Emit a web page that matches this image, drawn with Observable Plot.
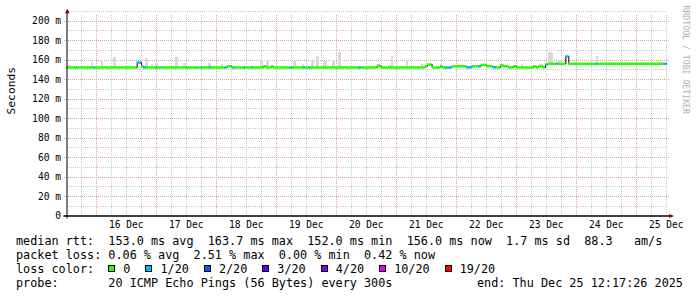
<!DOCTYPE html>
<html><head><meta charset="utf-8">
<script src="https://cdn.jsdelivr.net/npm/d3@7"></script>
<script src="https://cdn.jsdelivr.net/npm/@observablehq/plot@0.6"></script>
<style>
html,body{margin:0;padding:0;background:#fff;}
#wrap{position:relative;width:697px;height:297px;overflow:hidden;background:#fff;font-family:"DejaVu Sans Mono",monospace;}
#chart{position:absolute;left:0;top:0;}
.row{position:absolute;left:16px;font-size:11.8px;line-height:14px;white-space:pre;color:#000;}
.sw{display:inline-block;width:5px;height:5px;border:1px solid #000;margin-right:8px;position:relative;top:-1px;}
.it{margin-right:15px;}
</style></head>
<body>
<div id="wrap"><div id="chart"></div>
<div class="row" id="r1" style="top:234.2px"></div>
<div class="row" id="r2" style="top:247.9px"></div>
<div class="row" id="r3" style="top:261.9px"></div>
<div class="row" id="r4" style="top:275.9px"></div>
<div class="row" id="r5" style="top:275.9px;left:477px"></div>
</div>
<script>
// ---- data ----
const startTime = "2025-12-15T12:17:26Z";
const endTime = "2025-12-25T12:17:26Z";

const dayTicks = ["2025-12-16","2025-12-17","2025-12-18","2025-12-19","2025-12-20","2025-12-21","2025-12-22","2025-12-23","2025-12-24","2025-12-25"];
const dayLabels = ["16 Dec","17 Dec","18 Dec","19 Dec","20 Dec","21 Dec","22 Dec","23 Dec","24 Dec","25 Dec"];
const yTicks = [0,20,40,60,80,100,120,140,160,180,200];
const yTickLabels = ["0","20 m","40 m","60 m","80 m","100 m","120 m","140 m","160 m","180 m","200 m"];
const yMinorTicks = [10,30,50,70,90,110,130,150,170,190,210];

// median RTT (ms) step series with loss count (of 20 pings)
const medTimes = ["2025-12-15T12:17:26Z","2025-12-15T16:13Z","2025-12-15T16:37Z","2025-12-15T23:01Z","2025-12-15T23:42Z",
"2025-12-16T16:22Z","2025-12-16T18:05Z","2025-12-16T19:01Z","2025-12-16T20:05Z",
"2025-12-17T00:13Z","2025-12-17T00:37Z","2025-12-17T02:05Z","2025-12-17T02:29Z","2025-12-17T12:13Z","2025-12-17T12:37Z",
"2025-12-17T16:13Z","2025-12-17T16:37Z","2025-12-17T18:13Z","2025-12-17T18:37Z","2025-12-17T21:17Z","2025-12-17T21:53Z",
"2025-12-18T03:17Z","2025-12-18T03:53Z","2025-12-18T04:22Z","2025-12-18T06:22Z","2025-12-18T07:01Z","2025-12-18T07:25Z",
"2025-12-18T11:10Z","2025-12-18T11:41Z","2025-12-18T14:17Z","2025-12-18T14:53Z","2025-12-18T19:01Z","2025-12-18T20:05Z",
"2025-12-18T22:05Z","2025-12-18T22:46Z","2025-12-19T05:53Z","2025-12-19T06:41Z","2025-12-19T11:05Z","2025-12-19T11:41Z",
"2025-12-19T13:05Z","2025-12-19T13:41Z","2025-12-20T09:10Z","2025-12-20T10:05Z","2025-12-20T16:22Z","2025-12-20T17:58Z",
"2025-12-21T11:41Z","2025-12-21T12:29Z","2025-12-21T14:22Z","2025-12-21T17:41Z","2025-12-21T18:37Z","2025-12-21T19:41Z",
"2025-12-21T22:22Z","2025-12-22T04:05Z","2025-12-22T06:22Z","2025-12-22T08:59Z","2025-12-22T09:58Z","2025-12-22T12:05Z",
"2025-12-22T14:46Z","2025-12-22T16:05Z","2025-12-22T17:41Z","2025-12-22T19:01Z","2025-12-22T20:53Z","2025-12-22T22:46Z",
"2025-12-23T00:22Z","2025-12-23T07:01Z","2025-12-23T08:05Z","2025-12-23T08:53Z","2025-12-23T10:46Z","2025-12-23T11:41Z",
"2025-12-23T12:37Z","2025-12-23T16:22Z","2025-12-23T17:01Z","2025-12-23T19:49Z","2025-12-23T21:01Z","2025-12-24T07:49Z",
"2025-12-24T08:37Z","2025-12-25T11:01Z"];
const medValues = [152.3,152.3,152.3,152.3,152.3,
157.4,153.5,152.3,152.3,
152.3,152.3,152.3,152.3,152.3,152.3,
152.3,152.3,152.3,152.3,152.3,152.3,
152.3,152.3,153.5,152.3,152.3,152.3,
152.3,152.3,152.3,152.3,153.5,152.3,
153.5,152.3,152.3,152.3,152.3,152.3,
152.3,152.3,152.3,152.3,154.0,152.3,
153.5,155.3,152.3,153.5,152.3,152.3,
153.5,152.5,153.5,153.5,155.0,153.5,
152.5,152.3,154.5,153.5,152.3,153.5,
152.3,153.5,152.3,153.5,152.3,155.3,
156.1,156.1,156.1,163.7,156.1,156.1,
156.1,156.1];
const medLoss = [0,1,0,1,0,
1,0,1,0,
1,0,1,0,1,0,
1,0,1,0,1,0,
1,0,0,0,1,0,
1,0,1,0,0,0,
0,0,1,0,1,0,
1,0,1,0,0,0,
0,0,0,0,0,1,
0,1,0,1,0,0,
1,0,0,0,0,0,
0,0,0,0,0,1,
0,1,0,1,0,1,
0,1];

// smoke (ping spread above the median)
const smokeStart = ["2025-12-15T13:05Z","2025-12-15T21:58Z","2025-12-16T01:58Z","2025-12-16T06:46Z","2025-12-16T11:58Z","2025-12-16T19:41Z","2025-12-16T22:05Z","2025-12-16T23:49Z","2025-12-17T07:49Z","2025-12-17T10:46Z","2025-12-17T15:01Z","2025-12-17T20:53Z","2025-12-18T02:05Z","2025-12-18T17:41Z","2025-12-18T20:05Z","2025-12-19T07:01Z","2025-12-19T10:22Z","2025-12-19T14:05Z","2025-12-19T15:58Z","2025-12-19T19:01Z","2025-12-19T22:22Z","2025-12-20T00:46Z","2025-12-20T16:22Z","2025-12-20T20:53Z","2025-12-20T21:58Z","2025-12-21T03:58Z","2025-12-21T10:05Z","2025-12-21T17:41Z","2025-12-23T02:05Z","2025-12-23T09:41Z","2025-12-23T12:46Z","2025-12-23T13:58Z","2025-12-23T17:01Z","2025-12-24T08:05Z"];
const smokeEnd = ["2025-12-15T13:58Z","2025-12-15T23:01Z","2025-12-16T02:46Z","2025-12-16T08:05Z","2025-12-16T12:29Z","2025-12-16T21:01Z","2025-12-16T23:01Z","2025-12-17T00:53Z","2025-12-17T09:01Z","2025-12-17T12:05Z","2025-12-17T16:05Z","2025-12-17T22:05Z","2025-12-18T03:01Z","2025-12-18T18:46Z","2025-12-18T21:10Z","2025-12-19T08:05Z","2025-12-19T11:17Z","2025-12-19T15:17Z","2025-12-19T17:10Z","2025-12-19T20:22Z","2025-12-19T23:41Z","2025-12-20T02:05Z","2025-12-20T17:41Z","2025-12-20T21:58Z","2025-12-20T22:46Z","2025-12-21T05:01Z","2025-12-21T10:46Z","2025-12-21T18:37Z","2025-12-23T03:01Z","2025-12-23T10:46Z","2025-12-23T13:58Z","2025-12-23T15:01Z","2025-12-23T18:05Z","2025-12-24T09:01Z"];
const smokeTop = [154,157.2,159.7,162.4,153.8,161.3,154.9,156.2,162.4,156.2,153.8,156.2,154.9,159.7,159,159.7,155.6,158.3,163.4,158.3,159.7,167.2,155.6,154,163.4,159.7,154.9,155.6,154.9,154.9,168.2,166.9,159.7,164.1];
const smokeBase = [152.3,152.3,152.3,152.3,152.3,152.3,152.3,152.3,152.3,152.3,152.3,152.3,152.3,152.3,152.3,152.3,152.3,152.3,152.3,152.3,152.3,152.3,152.3,152.3,152.3,152.3,152.3,152.3,152.3,152.3,156.1,156.1,156.1,156.1];

const lossLevels = [0,1,2,3,4,10,19];
const lossLabels = ["0","1/20","2/20","3/20","4/20","10/20","19/20"];
const lossColors = ["#26ff00","#00b8ff","#0059ff","#5e00ff","#7e00ff","#dd00ff","#ff0000"];

const legendRow1 = "median rtt:  153.0 ms avg  163.7 ms max  152.0 ms min  156.0 ms now  1.7 ms sd  88.3   am/s";
const legendRow2 = "packet loss: 0.06 % avg  2.51 % max  0.00 % min  0.42 % now";
const legendRow3Title = "loss color:  ";
const legendRow4 = "probe:       20 ICMP Echo Pings (56 Bytes) every 300s";
const legendEnd = "end: Thu Dec 25 12:17:26 2025";
const yLabel = "Seconds";
const watermark = "RRDTOOL / TOBI OETIKER";

// ---- build ----
const start = new Date(startTime), end = new Date(endTime);
const days = dayTicks.map(d => new Date(d + "T00:00:00Z"));
const noons = days.map(d => d3.utcHour.offset(d, 12));
const xLabelMap = new Map(noons.map((d, i) => [+d, dayLabels[i]]));
const yLabelMap = new Map(yTicks.map((d, i) => [d, yTickLabels[i]]));
const minorX = d3.utcHour.every(6).range(start, end).filter(d => d.getUTCHours() !== 0);

const segs = medTimes.map((t, i) => ({
  t1: new Date(t),
  t2: i + 1 < medTimes.length ? new Date(medTimes[i + 1]) : end,
  v: medValues[i], loss: medLoss[i]
}));
const linePts = segs.map(s => ({t: s.t1, v: s.v})).concat([{t: end, v: medValues[medValues.length - 1]}]);
const smoke = smokeStart.map((s, i) => ({x1: new Date(s), x2: new Date(smokeEnd[i]), y1: smokeBase[i], y2: smokeTop[i]}));

const upArrow = {draw(ctx, size) { const r = Math.sqrt(size / Math.PI); ctx.moveTo(0, -r); ctx.lineTo(r, r); ctx.lineTo(-r, r); ctx.closePath(); }};
const rightArrow = {draw(ctx, size) { const r = Math.sqrt(size / Math.PI); ctx.moveTo(r * 1.1, 0); ctx.lineTo(-r, -r * 0.9); ctx.lineTo(-r, r * 0.9); ctx.closePath(); }};

const minorColor = "#c8c8c8", majorColor = "#e0a0a0";

const chart = Plot.plot({
  width: 697, height: 232,
  marginLeft: 63.5, marginRight: 27.5, marginTop: 12.5, marginBottom: 16.5,
  style: {fontFamily: "'DejaVu Sans Mono', monospace", fontSize: "9.6px", color: "#000", background: "#fff", overflow: "visible"},
  x: {type: "utc", domain: [start, end], range: [66.5, 666.5]},
  y: {domain: [0, 200], range: [215.5, 20.5]},
  color: {type: "threshold", domain: lossLevels.slice(1), range: lossColors},
  marks: [
    Plot.ruleY(yMinorTicks, {x1: start, x2: end, stroke: minorColor, strokeDasharray: "1,1", shapeRendering: "crispEdges"}),
    Plot.ruleX(minorX, {y1: 0, y2: 207, stroke: minorColor, strokeDasharray: "1,1", shapeRendering: "crispEdges"}),
    Plot.ruleY(yTicks.slice(1), {stroke: majorColor, strokeDasharray: "1,1", shapeRendering: "crispEdges"}),
    Plot.ruleX(days, {y1: 0, y2: 207, stroke: majorColor, strokeDasharray: "1,1", shapeRendering: "crispEdges"}),
    Plot.rect(smoke, {x1: "x1", x2: "x2", y1: "y1", y2: "y2", fill: "#d9d9d9", shapeRendering: "crispEdges"}),
    Plot.line(linePts, {x: "t", y: "v", curve: "step-after", stroke: "#000", strokeWidth: 1}),
    Plot.ruleY(segs, {x1: "t1", x2: "t2", y: "v", stroke: "loss", strokeWidth: 2.5}),
    Plot.ruleY([0], {stroke: "#000", strokeWidth: 1.5}),
    Plot.ruleX([start], {y1: -3, y2: 208, stroke: "#000", strokeWidth: 1}),
    Plot.dot([0], {frameAnchor: "top-left", dx: 3.3, dy: -2, symbol: upArrow, r: 2.3, fill: "#800000", stroke: null}),
    Plot.dot([0], {frameAnchor: "bottom-right", dx: 1.5, dy: 0, symbol: rightArrow, r: 2.3, fill: "#800000", stroke: null}),
    Plot.axisY(yTicks, {anchor: "left", tickSize: 0, tickPadding: 3, tickFormat: d => yLabelMap.get(d), label: null, fontSize: 9.6, fill: "#000"}),
    Plot.axisX(noons, {anchor: "bottom", tickSize: 0, tickPadding: 5, tickFormat: d => xLabelMap.get(+d), label: null, fontSize: 9.6, fill: "#000"}),
    Plot.text([yLabel], {text: d => d, frameAnchor: "left", rotate: -90, dx: -52.5, fontSize: 11.3, fill: "#000"}),
    Plot.text([watermark], {text: d => d, frameAnchor: "top-right", rotate: 90, textAnchor: "start", dx: 18.5, dy: -7.5, fontSize: 8.2, fill: "#b0b0b0"})
  ]
});
document.getElementById("chart").appendChild(chart);

// ---- legend below the chart ----
document.getElementById("r1").textContent = legendRow1;
document.getElementById("r2").textContent = legendRow2;
const r3 = document.getElementById("r3");
r3.appendChild(document.createTextNode(legendRow3Title));
lossLabels.forEach((lab, i) => {
  const sw = document.createElement("span");
  sw.className = "sw"; sw.style.background = lossColors[i];
  r3.appendChild(sw);
  const t = document.createElement("span");
  t.className = "it"; t.textContent = lab;
  r3.appendChild(t);
});
document.getElementById("r4").textContent = legendRow4;
document.getElementById("r5").textContent = legendEnd;
</script>
</body></html>
